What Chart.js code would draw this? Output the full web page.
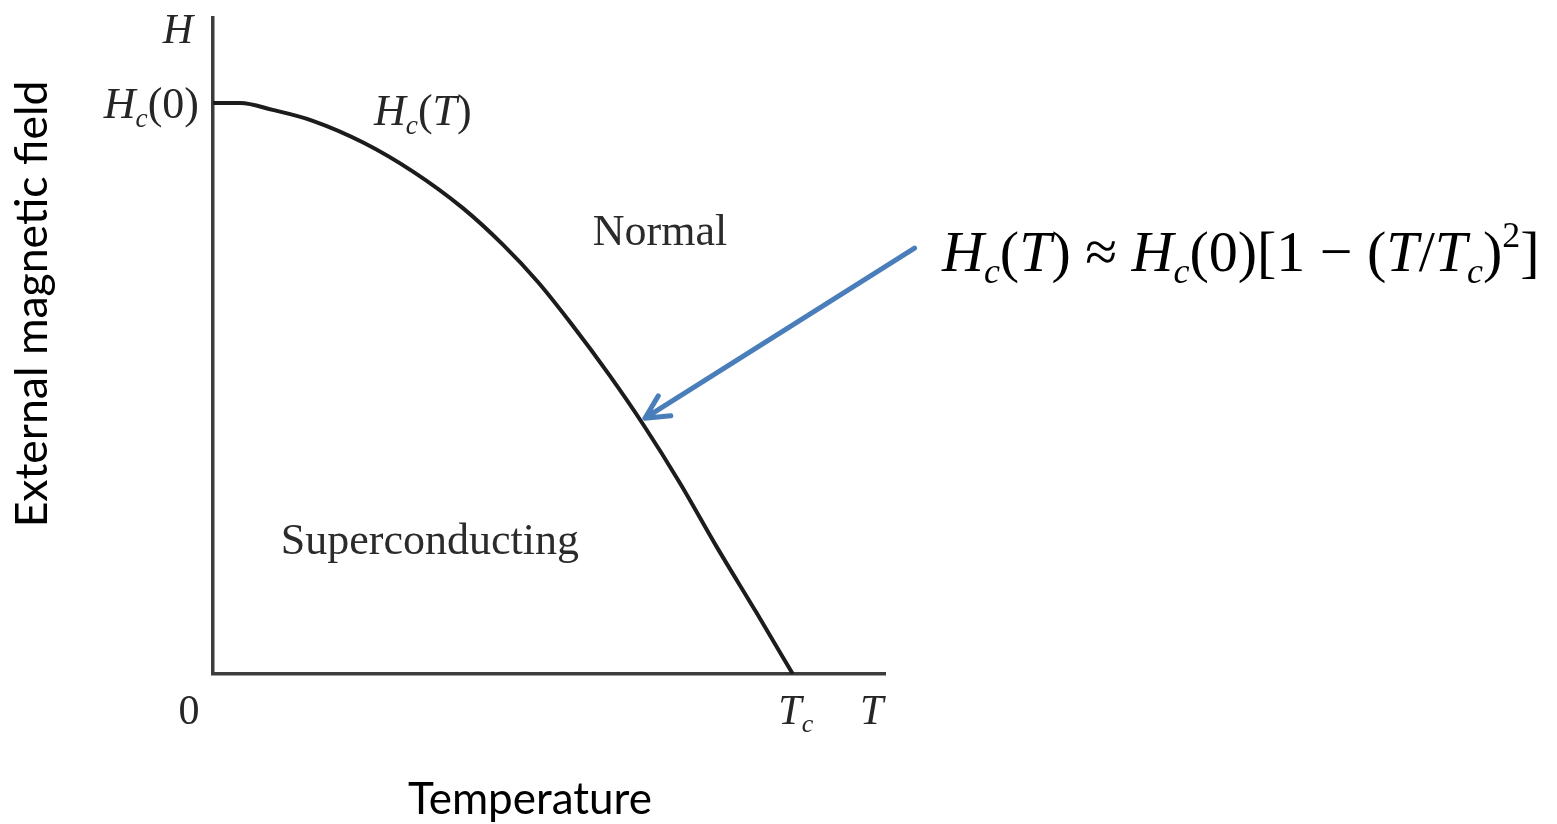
<!DOCTYPE html>
<html>
<head>
<meta charset="utf-8">
<script src="https://cdn.jsdelivr.net/npm/chart.js@4"></script>
<style>
  html, body { margin: 0; padding: 0; background: #ffffff; }
  #wrap { width: 1557px; height: 824px; }
</style>
</head>
<body>
<div id="wrap"><canvas id="c" width="1557" height="824"></canvas></div>
<script>
// ---- Data (T in units of Tc, H in units of Hc(0)) ----
const temperatureValues = [0, 0.047, 0.103, 0.172, 0.259, 0.345, 0.431, 0.500, 0.560, 0.616, 0.684, 0.742, 0.805, 0.868, 0.937, 1.0];
const criticalFieldValues = [1.0, 1.0, 0.988, 0.969, 0.931, 0.880, 0.816, 0.752, 0.687, 0.616, 0.523, 0.437, 0.335, 0.224, 0.108, 0.0];
const axisRange = { tMax: 1.159, hMax: 1.149 };
const xTickLabels = ['0', 'Tc', 'T'];
const yTickLabels = ['Hc(0)', 'H'];
const regionLabels = ['Normal', 'Superconducting'];
const curveLabel = 'Hc(T)';
const axisTitles = { x: 'Temperature', y: 'External magnetic field' };
const formulaText = 'Hc(T) ≈ Hc(0)[1 − (T/Tc)²]';

// ---- Presentation ----
const SERIF = '"Liberation Serif", "Times New Roman", serif';
const SANS = 'Lato, "Open Sans", sans-serif';
const INK = '#262626';

function seg(t, opts) { return Object.assign({ t: t }, opts || {}); }
function hc() { return [seg('H', { it: true }), seg('c', { it: true, sub: true })]; }

function drawRich(ctx, segs, x, y, size, align, color, weight) {
  weight = weight || 'normal';
  const fontOf = (s) => {
    const sz = (s.sub || s.sup) ? size * 0.62 : size;
    return (s.it ? 'italic ' : '') + weight + ' ' + sz + 'px ' + SERIF;
  };
  let total = 0;
  const widths = segs.map(s => { ctx.font = fontOf(s); const w = ctx.measureText(s.t).width; total += w; return w; });
  let cx = align === 'center' ? x - total / 2 : (align === 'right' ? x - total : x);
  ctx.save();
  ctx.fillStyle = color;
  ctx.textBaseline = 'alphabetic';
  ctx.textAlign = 'left';
  segs.forEach((s, i) => {
    ctx.font = fontOf(s);
    let dy = 0;
    if (s.sub) dy = size * 0.2;
    if (s.sup) dy = -size * 0.42;
    ctx.fillText(s.t, cx, y + dy);
    cx += widths[i];
  });
  ctx.restore();
  return total;
}

const annotationPlugin = {
  id: 'annotations',
  afterDraw(chart) {
    const ctx = chart.ctx;
    const xs = chart.scales.x, ys = chart.scales.y;
    const px = v => xs.getPixelForValue(v);
    const py = v => ys.getPixelForValue(v);

    // x tick labels
    drawRich(ctx, [seg(xTickLabels[0])], px(0) - 24, py(0) + 50, 42, 'center', INK);
    drawRich(ctx, [seg('T', { it: true }), seg('c', { it: true, sub: true })], px(1) + 3, py(0) + 50, 42, 'center', INK);
    drawRich(ctx, [seg(xTickLabels[2], { it: true })], px(1.136), py(0) + 50, 42, 'center', INK);

    // y tick labels
    drawRich(ctx, hc().concat([seg('(0)')]), px(0) - 14, py(1) + 15, 44, 'right', INK);
    drawRich(ctx, [seg(yTickLabels[1], { it: true })], px(0) - 35, py(0) - 631, 42, 'center', INK);

    // curve label
    drawRich(ctx, hc().concat([seg('(', {}), seg('T', { it: true }), seg(')', {})]), px(0.362), py(0.99) + 16, 44, 'center', INK);

    // region labels
    drawRich(ctx, [seg(regionLabels[0])], px(0.771), py(0.778) + 15, 44, 'center', '#2b2b2b');
    drawRich(ctx, [seg(regionLabels[1])], px(0.374), py(0.237) + 15, 44, 'center', '#2b2b2b');

    // formula
    const F = [].concat(hc(), [seg('(', {}), seg('T', { it: true }), seg(') ≈ ', {})],
      hc(), [seg('(0)[1 − (', {}), seg('T', { it: true }), seg('/', {}), seg('T', { it: true }),
      seg('c', { it: true, sub: true }), seg(')', {}), seg('2', { sup: true }), seg(']', {})]);
    drawRich(ctx, F, 942, 271, 58, 'left', '#000000');

    // arrow
    const x1 = px(1.21), y1 = py(0.746), x2 = px(0.745), y2 = py(0.448);
    const ang = Math.atan2(y1 - y2, x1 - x2);
    ctx.save();
    ctx.strokeStyle = '#4a7ebb';
    ctx.lineWidth = 5;
    ctx.lineCap = 'round';
    ctx.lineJoin = 'round';
    ctx.beginPath();
    ctx.moveTo(x1, y1); ctx.lineTo(x2, y2);
    const L = 26, A = 0.47;
    ctx.moveTo(x2 + L * Math.cos(ang - A), y2 + L * Math.sin(ang - A));
    ctx.lineTo(x2, y2);
    ctx.lineTo(x2 + L * Math.cos(ang + A), y2 + L * Math.sin(ang + A));
    ctx.stroke();
    ctx.restore();

    // axis titles
    ctx.save();
    ctx.fillStyle = '#000000';
    ctx.textAlign = 'center';
    ctx.textBaseline = 'middle';
    ctx.font = '44px ' + SANS;
    ctx.fillText(axisTitles.x, 530, 800);
    ctx.translate(33, 304);
    ctx.rotate(-Math.PI / 2);
    ctx.font = '44.5px ' + SANS;
    ctx.fillText(axisTitles.y, 0, 0);
    ctx.restore();
  }
};

new Chart(document.getElementById('c'), {
  type: 'line',
  data: {
    datasets: [{
      data: temperatureValues.map((t, i) => ({ x: t, y: criticalFieldValues[i] })),
      borderColor: '#1c1c1c',
      borderWidth: 4,
      pointRadius: 0,
      cubicInterpolationMode: 'monotone',
      fill: false
    }]
  },
  options: {
    responsive: false,
    animation: false,
    devicePixelRatio: 1,
    layout: { padding: { left: 213, right: 1557 - 885, top: 18, bottom: 150 } },
    plugins: { legend: { display: false }, tooltip: { enabled: false } },
    scales: {
      x: {
        type: 'linear', min: 0, max: axisRange.tMax,
        ticks: { display: false },
        grid: { display: false, drawTicks: false },
        border: { display: true, color: '#3c3c3c', width: 3.5 },
        afterFit(s) { s.height = 0; }
      },
      y: {
        type: 'linear', min: 0, max: axisRange.hMax,
        ticks: { display: false },
        grid: { display: false, drawTicks: false },
        border: { display: true, color: '#3c3c3c', width: 3.5 },
        afterFit(s) { s.width = 0; }
      }
    }
  },
  plugins: [annotationPlugin]
});
</script>
</body>
</html>
